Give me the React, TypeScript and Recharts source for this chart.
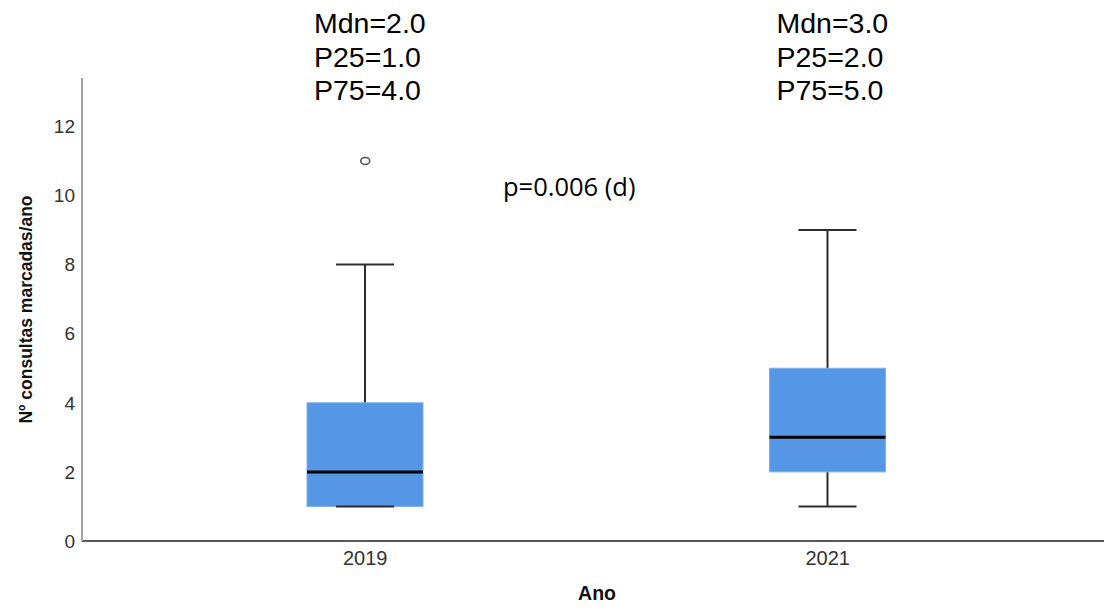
import React from 'react';
import {
  ComposedChart,
  Bar,
  Scatter,
  XAxis,
  YAxis,
  LabelList,
  Customized,
} from 'recharts';

// Box-plot summary per year
const years = ['2019', '2021'];
const minimums = [1, 1];
const firstQuartiles = [1, 2];
const medians = [2, 3];
const thirdQuartiles = [4, 5];
const maximums = [8, 9];

// Outlying observations
const outlierYears = ['2019'];
const outlierValues = [11];

const yTicks = [0, 2, 4, 6, 8, 10, 12];
const pValueText = 'p=0.006 (d)';

const rows = years.map((year, i) => ({
  year,
  min: minimums[i],
  q1: firstQuartiles[i],
  median: medians[i],
  q3: thirdQuartiles[i],
  max: maximums[i],
}));

const outlierRows = outlierYears.map((year, i) => ({ year, value: outlierValues[i] }));

const BOX_FILL = '#5596e5';
const WHISKER = '#2c2c2c';
const CAP_WIDTH = 58;

// The bar spans min..max on the value scale; box edges and median are
// placed on the same linear mapping.
const BoxPlotShape = (props: any) => {
  const { x, y, width, height, payload } = props;
  const top = Math.min(y, y + height);
  const bottom = Math.max(y, y + height);
  const pxPerUnit = (bottom - top) / (payload.max - payload.min);
  const toY = (v: number) => bottom - (v - payload.min) * pxPerUnit;
  const cx = x + width / 2;
  const capL = cx - CAP_WIDTH / 2;
  const capR = cx + CAP_WIDTH / 2;
  const q3Y = toY(payload.q3);
  const q1Y = toY(payload.q1);
  const medY = toY(payload.median);
  return (
    <g>
      <line x1={cx} x2={cx} y1={top} y2={bottom} stroke={WHISKER} strokeWidth={2} />
      <line x1={capL} x2={capR} y1={top} y2={top} stroke={WHISKER} strokeWidth={2} />
      <rect x={x} y={q3Y} width={width} height={q1Y - q3Y} fill={BOX_FILL} stroke="#7fb0ee" strokeWidth={1} />
      <line x1={capL} x2={capR} y1={bottom} y2={bottom} stroke={WHISKER} strokeWidth={2} />
      <line x1={x} x2={x + width} y1={medY} y2={medY} stroke="#000" strokeWidth={3} />
    </g>
  );
};

const SummaryLabel = (props: any) => {
  const { x, width, index } = props;
  const row = rows[index];
  if (!row) return null;
  const left = x + width / 2 - 51;
  const lines = [
    `Mdn=${row.median.toFixed(1)}`,
    `P25=${row.q1.toFixed(1)}`,
    `P75=${row.q3.toFixed(1)}`,
  ];
  return (
    <g>
      {lines.map((t, i) => (
        <text
          key={t}
          x={left}
          y={33 + i * 33.5}
          fontFamily="'Liberation Sans', Arial, sans-serif"
          fontSize={28.5}
          fill="#000"
        >
          {t}
        </text>
      ))}
    </g>
  );
};

const OutlierShape = (props: any) => {
  const { cx, cy } = props;
  return <ellipse cx={cx} cy={cy} rx={4.5} ry={3.5} fill="#fff" stroke="#555" strokeWidth={1.6} />;
};

const PValue = () => (
  <text x={503} y={196} fontFamily="'Open Sans', sans-serif" fontSize={25.5} fill="#000">
    {pValueText}
  </text>
);

export default function App() {
  return (
    <div style={{ position: 'absolute', left: 0, top: 0, background: '#fff' }}>
      <ComposedChart
        width={1104}
        height={608}
        data={rows}
        margin={{ top: 78, right: 0, bottom: 0, left: 0 }}
      >
        <XAxis
          dataKey="year"
          type="category"
          allowDuplicatedCategory={false}
          padding={{ left: 52, right: 45 }}
          height={67}
          tickLine={false}
          tickSize={8}
          tickMargin={2}
          axisLine={{ stroke: '#5a5a5a', strokeWidth: 2 }}
          tick={{ fill: '#333', fontSize: 20, fontFamily: "'Liberation Sans', Arial, sans-serif" }}
          label={{
            value: 'Ano',
            position: 'insideBottom',
            offset: 8,
            dx: 4,
            style: {
              fill: '#111',
              fontSize: 19.5,
              fontWeight: 700,
              fontFamily: "'Liberation Sans', Arial, sans-serif",
            },
          }}
        />
        <YAxis
          type="number"
          domain={[0, 13.4]}
          ticks={yTicks}
          width={82}
          tickLine={false}
          tickSize={5}
          tickMargin={2}
          axisLine={{ stroke: '#a3a3a3', strokeWidth: 2 }}
          tick={{ fill: '#333', fontSize: 19, fontFamily: "'Liberation Sans', Arial, sans-serif" }}
          label={{
            value: 'Nº consultas marcadas/ano',
            angle: -90,
            position: 'insideLeft',
            offset: 26,
            style: {
              textAnchor: 'middle',
              fill: '#111',
              fontSize: 17.5,
              fontWeight: 700,
              fontFamily: "'Liberation Sans', Arial, sans-serif",
            },
          }}
        />
        <Bar
          dataKey={(d: any) => [d.min, d.max]}
          barSize={116}
          shape={BoxPlotShape}
          isAnimationActive={false}
        >
          <LabelList dataKey="median" content={SummaryLabel} />
        </Bar>
        <Scatter
          data={outlierRows}
          dataKey="value"
          shape={OutlierShape}
          isAnimationActive={false}
        />
        <Customized component={PValue} />
      </ComposedChart>
    </div>
  );
}
